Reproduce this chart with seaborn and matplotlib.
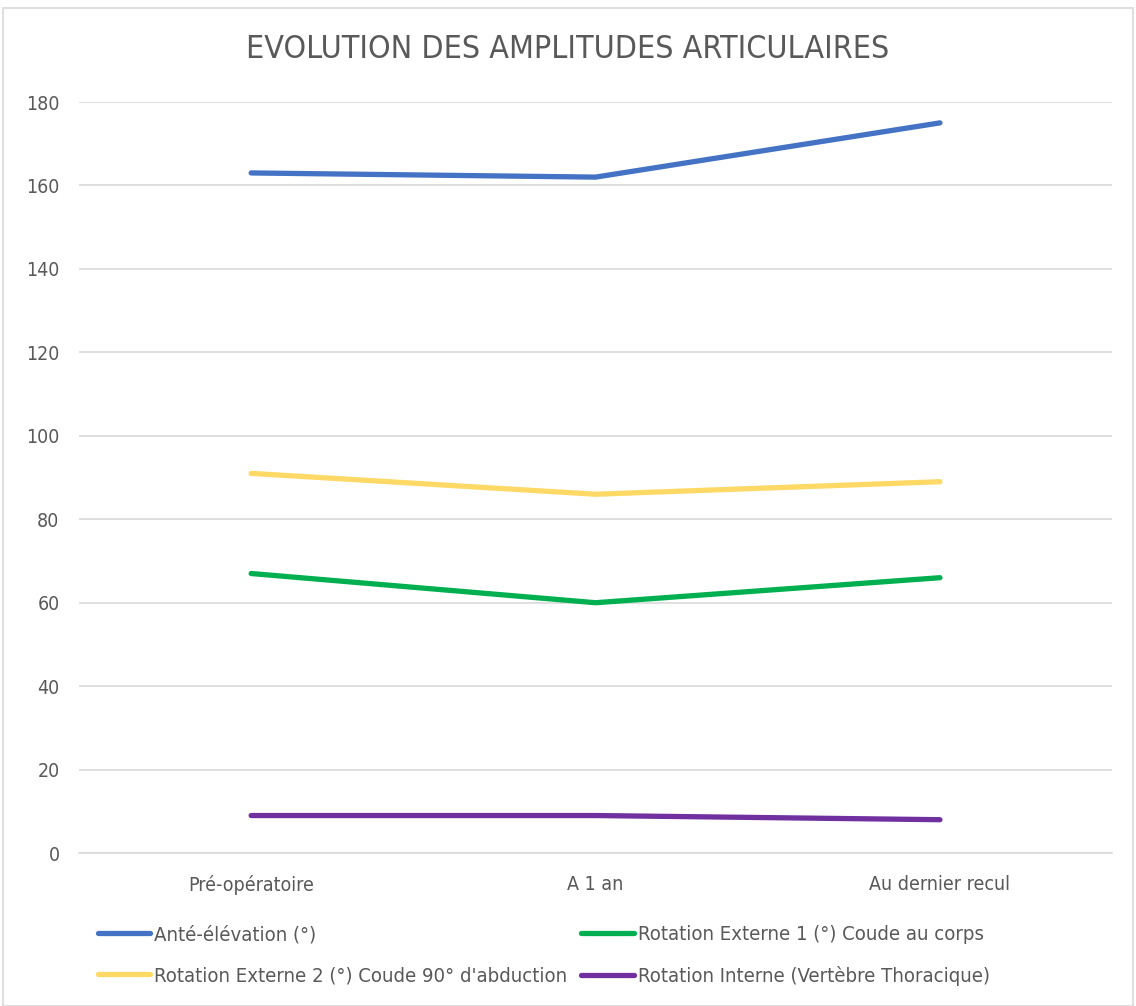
import matplotlib
matplotlib.use("Agg")
import matplotlib.pyplot as plt
import seaborn as sns
import pandas as pd
from matplotlib.patches import Rectangle
from matplotlib.lines import Line2D

categories = ["Pré-opératoire", "A 1 an", "Au dernier recul"]
ante_elevation = [163, 162, 175]
rot_ext1 = [67, 60, 66]
rot_ext2 = [91, 86, 89]
rot_int = [9, 9, 8]
series_names = [
    "Anté-élévation (°)",
    "Rotation Externe 1 (°) Coude au corps",
    "Rotation Externe 2 (°) Coude 90° d'abduction",
    "Rotation Interne (Vertèbre Thoracique)",
]
colors = ["#4472C4", "#00B050", "#FFD966", "#7030A0"]
yticks = [0, 20, 40, 60, 80, 100, 120, 140, 160, 180]

sns.set_theme(style="white")
plt.rcParams["font.family"] = ["DejaVu Sans"]
plt.rcParams["font.stretch"] = "condensed"

rows = []
for name, vals in zip(series_names, [ante_elevation, rot_ext1, rot_ext2, rot_int]):
    for i, v in enumerate(vals):
        rows.append({"x": i, "cat": categories[i], "value": v, "serie": name})
df = pd.DataFrame(rows)

fig = plt.figure(figsize=(11.36, 10.06), dpi=100)
ax = fig.add_axes([0.0695, 0.152, 0.9095, 0.7466])

sns.lineplot(data=df, x="x", y="value", hue="serie", hue_order=series_names,
             palette=colors, linewidth=3.8, ax=ax, legend=False,
             solid_capstyle="round", sort=False)

ax.set_xlim(-0.5, 2.5)
ax.set_ylim(0, 180)
ax.set_yticks(yticks)
ax.set_xticks(range(len(categories)))
ax.set_xticklabels(categories)
ax.set_xlabel("")
ax.set_ylabel("")
ax.grid(axis="y", color="#D9D9D9", linewidth=1.2)
ax.grid(axis="x", visible=False)
ax.set_axisbelow(True)
for s in ["top", "right", "left"]:
    ax.spines[s].set_visible(False)
ax.spines["bottom"].set_color("#D9D9D9")
ax.spines["bottom"].set_linewidth(1.2)
ax.tick_params(axis="both", colors="#595959", labelsize=14, length=0)
ax.tick_params(axis="y", pad=14)
ax.tick_params(axis="x", pad=16)

fig.text(0.5, 0.951, "EVOLUTION DES AMPLITUDES ARTICULAIRES", ha="center", va="center",
         fontsize=23, color="#595959")

handles = [Line2D([0], [0], color=c, linewidth=3.8, solid_capstyle="round") for c in colors]
order = [0, 2, 1, 3]
leg = fig.legend([handles[i] for i in order], [series_names[i] for i in order],
                 loc="upper left", bbox_to_anchor=(0.086, 0.0805),
                 ncol=2, frameon=False, fontsize=14.6, labelcolor="#595959",
                 handlelength=2.6, handletextpad=0.2, columnspacing=0.65,
                 labelspacing=1.1, borderaxespad=0.0, borderpad=0.0)

fig.patches.append(Rectangle((0.003, 0.0), 0.994, 0.992, transform=fig.transFigure,
                             fill=False, edgecolor="#D9D9D9", linewidth=1.2))

fig.savefig("out.png", dpi=100, facecolor="white")
